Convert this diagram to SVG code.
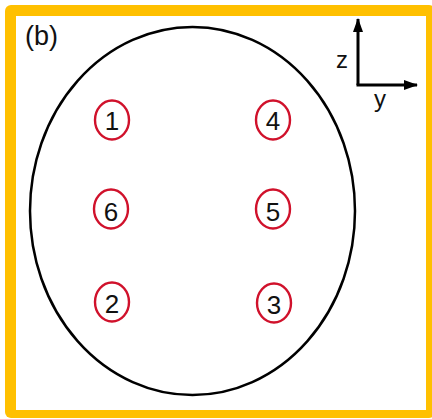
<svg xmlns="http://www.w3.org/2000/svg" width="432" height="419" viewBox="0 0 432 419">
<style>
.lbl{font-family:"Liberation Sans",Arial,sans-serif;fill:#111}
.num{font-family:"Liberation Sans",Arial,sans-serif;font-size:26px;fill:#111;text-anchor:middle}
.ring{fill:none;stroke:#d0112b;stroke-width:2.4}
.ax{stroke:#000;stroke-width:3;fill:none}
</style>
<defs>
<marker id="ah" viewBox="0 0 14 10" refX="13" refY="5" markerWidth="4.7" markerHeight="3.4" orient="auto" markerUnits="strokeWidth">
<path d="M0,0 L14,5 L0,10 z" fill="#000"/>
</marker>
</defs>
<rect x="0" y="0" width="432" height="419" fill="#fff"/>
<rect x="5" y="5" width="430" height="413" rx="6" fill="#ffc000"/>
<rect x="16" y="16" width="410" height="394" fill="#fff"/>
<text class="lbl" x="25" y="45" font-size="27">(b)</text>
<ellipse cx="192.5" cy="211" rx="162.5" ry="184" fill="none" stroke="#000" stroke-width="2.5"/>
<g id="axes">
<line class="ax" x1="358" y1="85" x2="358" y2="19" marker-end="url(#ah)"/>
<line class="ax" x1="356.5" y1="85" x2="417" y2="85" marker-end="url(#ah)"/>
<text class="lbl" x="336" y="68" font-size="24">z</text>
<text class="lbl" x="374" y="107" font-size="24">y</text>
</g>
<g id="n1"><ellipse class="ring" cx="112" cy="120" rx="17" ry="19.5"/><text class="num" x="112" y="130">1</text></g>
<g id="n4"><ellipse class="ring" cx="273" cy="120" rx="17" ry="19.5"/><text class="num" x="273" y="130">4</text></g>
<g id="n6"><ellipse class="ring" cx="111" cy="209" rx="17" ry="19.5"/><text class="num" x="111" y="221">6</text></g>
<g id="n5"><ellipse class="ring" cx="273" cy="209" rx="17" ry="19.5"/><text class="num" x="273" y="221">5</text></g>
<g id="n2"><ellipse class="ring" cx="112" cy="302" rx="17" ry="19.5"/><text class="num" x="112" y="313">2</text></g>
<g id="n3"><ellipse class="ring" cx="274" cy="303" rx="17" ry="19.5"/><text class="num" x="274" y="314">3</text></g>
<g id="connectors"></g>
</svg>
